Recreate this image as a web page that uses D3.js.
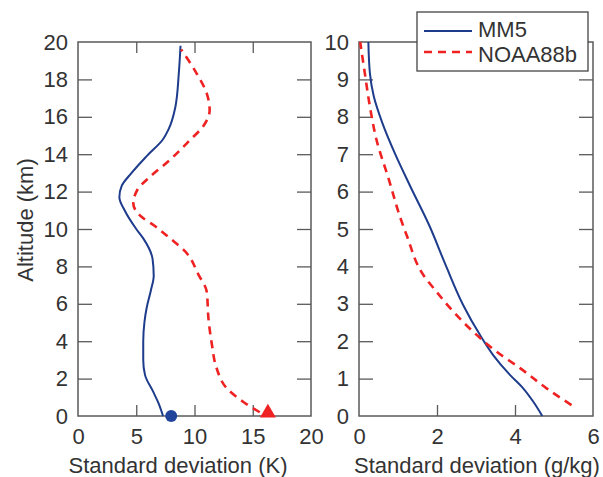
<!DOCTYPE html>
<html>
<head>
<meta charset="utf-8">
<script src="https://cdn.jsdelivr.net/npm/d3@7"></script>
<style>
  html, body { margin: 0; padding: 0; background: #fff; }
  svg { display: block; font-family: "Liberation Sans", Arial, sans-serif; }
</style>
</head>
<body>
<svg id="chart" width="603" height="477"></svg>
<script>
// ---- Data ----
// Left panel: temperature standard deviation (K) vs altitude (km)
const tempMM5Alt   = [0, 0.7, 1.3, 2.2, 3.0, 4.0, 5.0, 5.8, 6.7, 7.5, 8.4, 9.5, 10.0, 11.0, 11.7, 12.3, 13.0, 13.9, 14.8, 15.3, 16.5, 18.3, 19.8];
const tempMM5Val   = [7.3, 6.9, 6.45, 5.75, 5.6, 5.6, 5.7, 5.9, 6.25, 6.5, 6.4, 5.6, 5.0, 4.0, 3.55, 3.75, 4.6, 5.9, 7.3, 7.75, 8.35, 8.65, 8.8];
const tempNOAAAlt  = [0.2, 0.75, 1.5, 2.55, 3.8, 5.2, 6.65, 7.55, 8.8, 9.5, 10.2, 10.65, 11.35, 12.1, 12.8, 13.7, 14.75, 15.5, 16.35, 17.25, 18.3, 19.6];
const tempNOAAVal  = [15.6, 14.2, 12.75, 11.9, 11.5, 11.2, 11.05, 10.35, 9.2, 7.9, 6.5, 5.45, 4.75, 5.1, 6.2, 7.9, 9.6, 10.75, 11.3, 11.05, 10.2, 8.85];
const tempMarkerMM5  = [8.0, 0];
const tempMarkerNOAA = [16.3, 0];

// Right panel: water vapour standard deviation (g/kg) vs altitude (km)
const qMM5Alt  = [0, 0.38, 0.74, 1.1, 1.63, 2.17, 2.97, 4.04, 5.1, 6.13, 7.02, 7.83, 8.54, 9.16, 10];
const qMM5Val  = [4.7, 4.47, 4.21, 3.87, 3.44, 3.1, 2.67, 2.22, 1.8, 1.32, 0.92, 0.6, 0.38, 0.28, 0.24];
const qNOAAAlt = [0.29, 0.74, 1.28, 1.72, 2.25, 2.79, 3.32, 3.77, 4.84, 5.33, 6.31, 7.38, 8.27, 9.16, 10];
const qNOAAVal = [5.45, 4.81, 4.13, 3.53, 2.93, 2.42, 1.99, 1.65, 1.22, 1.05, 0.77, 0.45, 0.28, 0.15, 0.03];

const tempXTicks = [0, 5, 10, 15, 20];
const tempYTicks = [0, 2, 4, 6, 8, 10, 12, 14, 16, 18, 20];
const qXTicks = [0, 2, 4, 6];
const qYTicks = [0, 1, 2, 3, 4, 5, 6, 7, 8, 9, 10];

const seriesNames = ["MM5", "NOAA88b"];
const xTitles = ["Standard deviation (K)", "Standard deviation (g/kg)"];
const yTitle = "Altitude (km)";

// ---- Style ----
const BLUE = "#1e3c8c";
const RED = "#ee2222";
const FRAME = "#5a5a5a";
const TEXT = "#333";
const FS = 22;

const svg = d3.select("#chart");

function panel(opts) {
  const { x0, x1, y0, y1, xDomain, yDomain, xTicks, yTicks, series, title, titleX } = opts;
  const x = d3.scaleLinear().domain(xDomain).range([x0, x1]);
  const y = d3.scaleLinear().domain(yDomain).range([y1, y0]);
  const g = svg.append("g");

  const innerX = xTicks.slice(1, -1);
  const innerY = yTicks.slice(1, -1);

  const styleAxis = sel => {
    sel.select(".domain").remove();
    sel.selectAll(".tick line").attr("stroke", FRAME).attr("stroke-width", 1.3);
    sel.selectAll(".tick text").attr("fill", TEXT).attr("font-size", FS)
      .attr("font-family", "Liberation Sans, Arial, sans-serif");
  };
  const noText = sel => sel.selectAll(".tick text").remove();

  g.append("g").attr("transform", `translate(0,${y1})`)
    .call(d3.axisBottom(x).tickValues(xTicks).tickSizeInner(-11).tickSizeOuter(0).tickPadding(12).tickFormat(d3.format("d")))
    .call(styleAxis)
    .call(s => s.selectAll(".tick").filter(d => d === xTicks[0] || d === xTicks[xTicks.length - 1]).select("line").remove());

  g.append("g").attr("transform", `translate(0,${y0})`)
    .call(d3.axisTop(x).tickValues(innerX).tickSizeInner(-11).tickSizeOuter(0))
    .call(styleAxis).call(noText);

  g.append("g").attr("transform", `translate(${x0},0)`)
    .call(d3.axisLeft(y).tickValues(yTicks).tickSizeInner(-14).tickSizeOuter(0).tickPadding(10).tickFormat(d3.format("d")))
    .call(styleAxis)
    .call(s => s.selectAll(".tick").filter(d => d === yTicks[0] || d === yTicks[yTicks.length - 1]).select("line").remove());

  g.append("g").attr("transform", `translate(${x1},0)`)
    .call(d3.axisRight(y).tickValues(innerY).tickSizeInner(-14).tickSizeOuter(0))
    .call(styleAxis).call(noText);

  g.append("rect").attr("x", x0).attr("y", y0).attr("width", x1 - x0).attr("height", y1 - y0)
    .attr("fill", "none").attr("stroke", FRAME).attr("stroke-width", 1.5);

  const line = d3.line().x(d => x(d[0])).y(d => y(d[1])).curve(d3.curveMonotoneY);
  series.forEach(s => {
    const pts = s.val.map((v, i) => [v, s.alt[i]]);
    g.append("path").attr("d", line(pts)).attr("fill", "none")
      .attr("stroke", s.color).attr("stroke-width", s.width)
      .attr("stroke-dasharray", s.dash || null);
  });

  g.append("text").attr("x", titleX).attr("y", 473).attr("text-anchor", "middle")
    .attr("font-size", FS).attr("fill", TEXT).text(title);

  return { x, y, g };
}

const left = panel({
  x0: 78, x1: 311, y0: 42, y1: 416,
  xDomain: [0, 20], yDomain: [0, 20], xTicks: tempXTicks, yTicks: tempYTicks,
  series: [
    { alt: tempMM5Alt, val: tempMM5Val, color: BLUE, width: 2 },
    { alt: tempNOAAAlt, val: tempNOAAVal, color: RED, width: 2.6, dash: "8,6" }
  ],
  title: xTitles[0], titleX: 178
});

const right = panel({
  x0: 359, x1: 593, y0: 42, y1: 416,
  xDomain: [0, 6], yDomain: [0, 10], xTicks: qXTicks, yTicks: qYTicks,
  series: [
    { alt: qMM5Alt, val: qMM5Val, color: BLUE, width: 2 },
    { alt: qNOAAAlt, val: qNOAAVal, color: RED, width: 2.6, dash: "8,6" }
  ],
  title: xTitles[1], titleX: 477
});

// markers on left panel
left.g.append("circle").attr("cx", left.x(tempMarkerMM5[0])).attr("cy", left.y(tempMarkerMM5[1]))
  .attr("r", 6).attr("fill", "#22449a");
left.g.append("path")
  .attr("d", d3.symbol().type(d3.symbolTriangle).size(110)())
  .attr("transform", `translate(${left.x(tempMarkerNOAA[0])},${left.y(tempMarkerNOAA[1]) - 3})`)
  .attr("fill", RED);

// y title
svg.append("text").attr("transform", "translate(33,220) rotate(-90)")
  .attr("text-anchor", "middle").attr("font-size", FS).attr("fill", TEXT).text(yTitle);

// legend
const lg = svg.append("g");
lg.append("rect").attr("x", 417).attr("y", 12).attr("width", 171).attr("height", 59)
  .attr("fill", "#fff").attr("stroke", "#444").attr("stroke-width", 1.3);
const legendItems = [
  { name: seriesNames[0], color: BLUE, dash: null, width: 2, y: 31, base: 37 },
  { name: seriesNames[1], color: RED, dash: "8,6", width: 2.6, y: 52, base: 62 }
];
legendItems.forEach(it => {
  lg.append("line").attr("x1", 424).attr("x2", 472).attr("y1", it.y).attr("y2", it.y)
    .attr("stroke", it.color).attr("stroke-width", it.width).attr("stroke-dasharray", it.dash);
  lg.append("text").attr("x", 478).attr("y", it.base).attr("font-size", FS).attr("fill", TEXT).text(it.name);
});
</script>
</body>
</html>
